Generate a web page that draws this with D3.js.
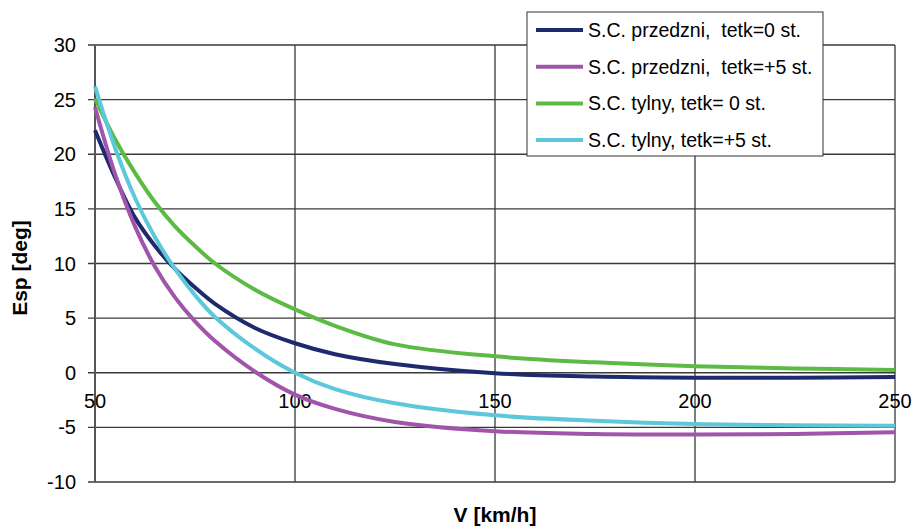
<!DOCTYPE html>
<html>
<head>
<meta charset="utf-8">
<script src="https://cdn.jsdelivr.net/npm/d3@7"></script>
<style>
  body { margin: 0; background: #fff; }
  text { font-family: Arial, 'Liberation Sans', sans-serif; fill: #000; }
</style>
</head>
<body>
<svg width="917" height="528"></svg>
<script>
// speeds (km/h)
const speeds = [50, 55, 60, 65, 70, 75, 80, 90, 100, 110, 125, 150, 175, 200, 225, 250]

// Esp [deg] for each series, one value per speed
const frontZero = [22.2, 17.9, 14.2, 11.6, 9.5, 7.8, 6.3, 4.1, 2.7, 1.7, 0.8, -0.05, -0.35, -0.45, -0.45, -0.4]
const frontPlus5 = [24.3, 18.2, 13.4, 9.7, 6.9, 4.7, 2.9, 0.1, -2.0, -3.3, -4.5, -5.35, -5.6, -5.65, -5.6, -5.45]
const rearZero = [25.1, 21.4, 18.3, 15.6, 13.4, 11.6, 10.0, 7.6, 5.8, 4.3, 2.6, 1.5, 0.95, 0.6, 0.4, 0.25]
const rearPlus5 = [26.2, 20.6, 16.0, 12.4, 9.5, 7.1, 5.1, 2.2, 0.0, -1.5, -2.8, -3.9, -4.4, -4.7, -4.8, -4.85]

const seriesNames = [
  'S.C. przedzni,  tetk=0 st.',
  'S.C. przedzni,  tetk=+5 st.',
  'S.C. tylny, tetk= 0 st.',
  'S.C. tylny, tetk=+5 st.'
]
const seriesColors = ['#1f2a6e', '#a055aa', '#5cbb44', '#5cc8d9']

const xTicks = [50, 100, 150, 200, 250]
const yTicks = [30, 25, 20, 15, 10, 5, 0, -5, -10]

const svg = d3.select('svg')

// scales
const x = d3.scaleLinear().domain([50, 250]).range([95, 895])
const y = d3.scaleLinear().domain([-10, 30]).range([482, 45])

// horizontal grid + little ticks sticking out left
svg.selectAll('line.hgrid')
  .data(yTicks)
  .enter()
  .append('line')
  .attr('class', 'hgrid')
  .attr('x1', 88)
  .attr('x2', x(250))
  .attr('y1', d => y(d))
  .attr('y2', d => y(d))
  .attr('stroke', '#3a3a3a')
  .attr('stroke-width', 1.3)

// vertical grid
svg.selectAll('line.vgrid')
  .data(xTicks)
  .enter()
  .append('line')
  .attr('class', 'vgrid')
  .attr('x1', d => x(d))
  .attr('x2', d => x(d))
  .attr('y1', y(30))
  .attr('y2', y(-10))
  .attr('stroke', d => d === 50 ? '#555' : '#3a3a3a')
  .attr('stroke-width', d => d === 50 ? 2 : 1.3)

// y tick labels
svg.selectAll('text.ylab')
  .data(yTicks)
  .enter()
  .append('text')
  .attr('class', 'ylab')
  .attr('x', 76)
  .attr('y', d => y(d) + 7)
  .attr('text-anchor', 'end')
  .style('font-size', '20px')
  .text(d => d)

// x tick labels sit under the zero line
svg.selectAll('text.xlab')
  .data(xTicks)
  .enter()
  .append('text')
  .attr('class', 'xlab')
  .attr('x', d => x(d))
  .attr('y', y(0) + 35)
  .attr('text-anchor', 'middle')
  .style('font-size', '20px')
  .text(d => d)

// axis titles
svg.append('text')
  .attr('x', 495)
  .attr('y', 522)
  .attr('text-anchor', 'middle')
  .style('font-size', '21px')
  .style('font-weight', 'bold')
  .text('V [km/h]')

svg.append('text')
  .attr('transform', 'translate(27,268) rotate(-90)')
  .attr('text-anchor', 'middle')
  .style('font-size', '21px')
  .style('font-weight', 'bold')
  .text('Esp [deg]')

// curves
const allSeries = [frontZero, frontPlus5, rearZero, rearPlus5]
const line = d3.line()
  .x((d, i) => x(speeds[i]))
  .y(d => y(d))
  .curve(d3.curveCatmullRom.alpha(0.5))

svg.selectAll('path.series')
  .data(allSeries)
  .enter()
  .append('path')
  .attr('class', 'series')
  .attr('d', line)
  .attr('fill', 'none')
  .attr('stroke', (d, i) => seriesColors[i])
  .attr('stroke-width', 4)

// legend box
const legend = svg.append('g').attr('transform', 'translate(527,12)')
legend.append('rect')
  .attr('width', 296)
  .attr('height', 144)
  .attr('fill', '#fff')
  .attr('stroke', '#333')
  .attr('stroke-width', 1)

const items = legend.selectAll('g.item')
  .data(seriesNames)
  .enter()
  .append('g')
  .attr('class', 'item')
  .attr('transform', (d, i) => `translate(0, ${18 + i * 36.7})`)

items.append('line')
  .attr('x1', 9)
  .attr('x2', 56)
  .attr('stroke', (d, i) => seriesColors[i])
  .attr('stroke-width', 4)

items.append('text')
  .attr('x', 61)
  .attr('y', 7)
  .style('font-size', '19.5px')
  .style('white-space', 'pre')
  .text(d => d)
</script>
</body>
</html>
